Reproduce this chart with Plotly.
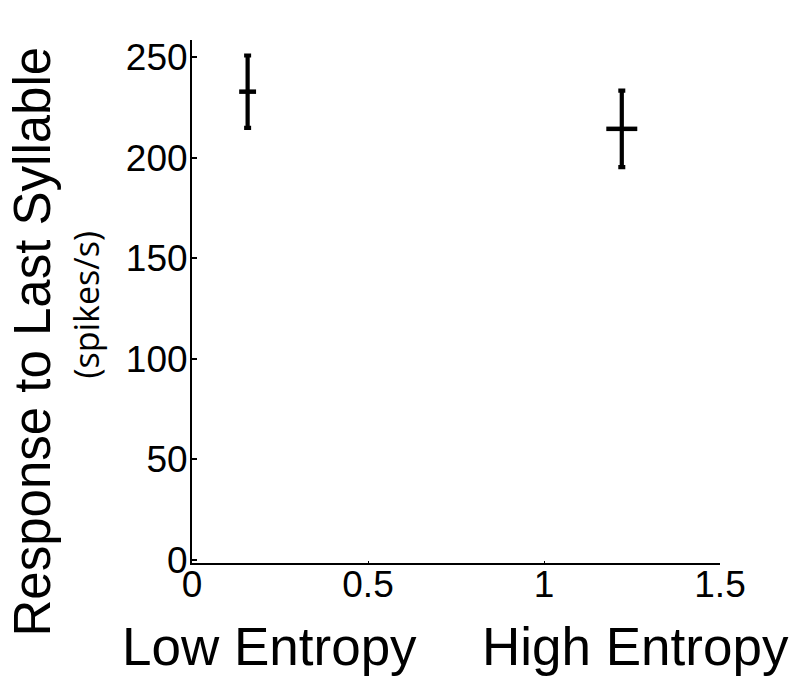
import plotly.graph_objects as go

# Data
conditions = ["Low Entropy", "High Entropy"]
x_pos = [0.158, 1.221]
response = [233.0, 214.5]
sem = [18.0, 19.0]
x_halfwidth = [0.024, 0.044]
label_x = [0.22, 1.26]
y_ticks = [0, 50, 100, 150, 200, 250]
x_ticks = [0, 0.5, 1, 1.5]
x_ticklabels = ["0", "0.5", "1", "1.5"]

FONT = "Liberation Sans, Arial, Helvetica, sans-serif"

fig = go.Figure()
fig.add_trace(go.Scatter(
    x=x_pos, y=response, mode="markers",
    marker=dict(size=1, color="black", opacity=0),
    error_y=dict(type="data", array=sem, color="black", thickness=4.2, width=3.5, visible=True),
    error_x=dict(type="data", array=x_halfwidth, color="black", thickness=4.5, width=0, visible=True),
    showlegend=False, hoverinfo="skip",
))

for name, lx in zip(conditions, label_x):
    fig.add_annotation(text=name, x=lx, xref="x", y=-0.16, yref="paper",
                       xanchor="center", yanchor="middle", showarrow=False,
                       font=dict(family=FONT, size=53, color="black"))

fig.add_annotation(text="Response to Last Syllable", x=-0.302, xref="paper",
                   y=0.4226, yref="paper", textangle=-90, showarrow=False,
                   xanchor="center", yanchor="middle",
                   font=dict(family=FONT, size=51, color="black"))
fig.add_annotation(text="(spikes/s)", x=-0.2, xref="paper",
                   y=0.493, yref="paper", textangle=-90, showarrow=False,
                   xanchor="center", yanchor="middle",
                   font=dict(family="Open Sans, sans-serif", size=34, color="black"))

fig.update_layout(
    width=797, height=679,
    margin=dict(l=184, r=85, t=32, b=124),
    paper_bgcolor="white", plot_bgcolor="white",
    font=dict(family=FONT, color="black"),
    xaxis=dict(range=[0, 1.5], tickvals=x_ticks, ticktext=x_ticklabels,
               showgrid=False, zeroline=False, showline=True, linecolor="black",
               linewidth=2, ticks="inside", ticklen=2, tickwidth=1,
               tickcolor="black", tickfont=dict(size=37, family=FONT),
               ticklabelstandoff=-12),
    yaxis=dict(range=[-1.5, 258.7], tickvals=y_ticks,
               showgrid=False, zeroline=False, showline=True, linecolor="black",
               linewidth=2, ticks="inside", ticklen=5, tickwidth=1.5,
               tickcolor="black", tickfont=dict(size=37, family=FONT),
               ticklabelstandoff=-5),
)

fig.write_html("out.html")
